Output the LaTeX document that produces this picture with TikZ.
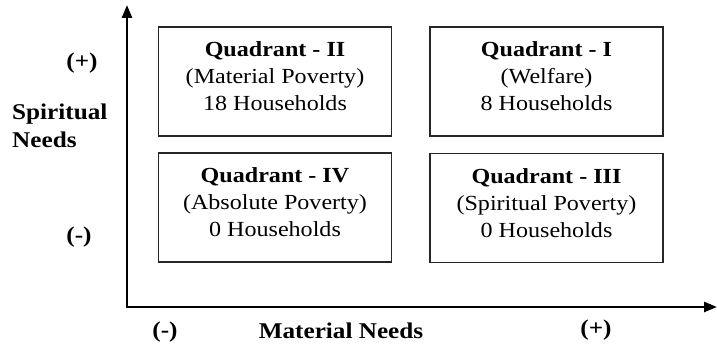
\documentclass[tikz,border=0pt]{standalone}
\usepackage{fontspec}
\setmainfont[FakeStretch=1.12]{Liberation Serif}
\usetikzlibrary{arrows.meta}
\begin{document}
\begin{tikzpicture}[x=1pt,y=-1pt,
  quad/.style={draw=black!85,line width=1.1pt,minimum width=233pt,minimum height=109pt,inner sep=0pt},
  qtext/.style={align=center,font=\fontsize{21.5}{27}\selectfont,inner sep=0pt},
  axlab/.style={font=\fontsize{22.5}{28}\selectfont\bfseries,inner sep=0pt},
  axis/.style={line width=2.6pt,-{Triangle[length=13pt,width=10pt]}}]
\useasboundingbox (0,0) rectangle (717,344);
\coordinate (O) at (127,307);
\coordinate (ytip) at (127,5);
\coordinate (xtip) at (717,307);
\draw[axis] ([yshift=-1.3pt]O) -- (ytip);
\draw[axis] ([xshift=-1.3pt]O) -- (xtip);

\node[quad] (q2) at (275,81.5) {};
\node[quad] (q1) at (546.5,81.5) {};
\node[quad] (q4) at (275,207.5) {};
\node[quad] (q3) at (546.5,208) {};

\node[qtext] (t2) at ([yshift=5pt]q2.center) {\textbf{Quadrant - II}\\(Material Poverty)\\18 Households};
\node[qtext] (t1) at ([yshift=5pt]q1.center) {\textbf{Quadrant - I}\\(Welfare)\\8 Households};
\node[qtext] (t4) at ([yshift=5pt]q4.center) {\textbf{Quadrant - IV}\\(Absolute Poverty)\\0 Households};
\node[qtext] (t3) at ([yshift=5pt]q3.center) {\textbf{Quadrant - III}\\(Spiritual Poverty)\\0 Households};

\node[axlab] (yp) at (82,63) {(+)};
\node[axlab,align=left,anchor=west,font=\fontsize{22.5}{28}\selectfont\bfseries] (ylab) at (12,126) {Spiritual\\Needs};
\node[axlab] (ym) at (79,237) {(-)};
\node[axlab] (xm) at (165,332) {(-)};
\node[axlab] (xlab) at (341,331) {Material Needs};
\node[axlab] (xp) at (596,330) {(+)};
\end{tikzpicture}
\end{document}
